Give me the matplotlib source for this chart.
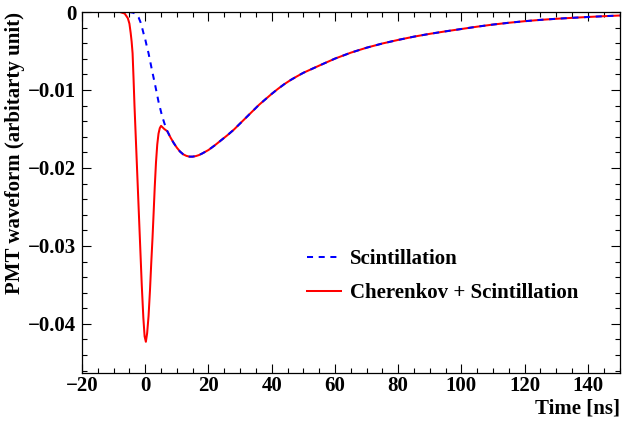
import matplotlib
matplotlib.use("Agg")
import matplotlib.pyplot as plt
from matplotlib.ticker import MultipleLocator

plt.rcParams["font.family"] = ["Liberation Serif", "DejaVu Serif"]
plt.rcParams["font.weight"] = "bold"

# Scintillation pulse, time in ns
scint_t = [-20, -5, -3.7, -2.9, -2.1, -1.5, -1.0, -0.5, 0, 0.5, 1.05, 2.1, 3.2,
           4.2, 5.3, 6.0, 6.5, 7.0, 7.5, 8, 9, 10, 11, 12, 13, 14, 15, 16, 17,
           18, 20, 22, 24, 26, 28, 30, 32, 34, 36, 38, 40, 42, 44, 46, 48, 50,
           55, 60, 65, 70, 75, 80, 85, 90, 95, 100, 105, 110, 115, 120, 125,
           130, 135, 140, 145, 150]
scint_v = [0, 0, -0.0001, -0.0003, -0.0007, -0.0013, -0.0020, -0.0028, -0.0035,
           -0.0044, -0.0053, -0.0074, -0.0095, -0.0115, -0.0133, -0.0142,
           -0.0148, -0.0153, -0.0157, -0.0161, -0.0168, -0.0174, -0.0179,
           -0.01825, -0.01845, -0.01855, -0.01855, -0.01848, -0.01835,
           -0.01815, -0.0177, -0.0171, -0.01645, -0.0158, -0.0151, -0.0143,
           -0.0135, -0.0127, -0.0119, -0.0112, -0.0105, -0.00985, -0.00925,
           -0.00872, -0.00825, -0.0078, -0.00688, -0.00598, -0.00522,
           -0.00458, -0.00404, -0.00358, -0.00316, -0.0028, -0.00248,
           -0.00218, -0.00188, -0.00161, -0.00138, -0.00118, -0.00101,
           -0.00087, -0.00075, -0.00064, -0.00054, -0.00045]

# Cherenkov spike on top of scintillation, up to where both curves merge
cher_t = [-20, -8, -6.5, -5.5, -5.0, -4.6, -4.3, -4.0, -3.7, -3.4, -3.0, -2.6,
          -2.1, -1.6, -1.1, -0.6, -0.2, 0.2, 0.6, 1.05, 1.5, 1.9, 2.3, 2.65,
          3.0, 3.4, 3.8, 4.2, 4.6, 5.0, 5.5, 6.0, 6.5]
cher_v = [0, 0, -0.0002, -0.0008, -0.0015, -0.0027, -0.0038, -0.0053, -0.0085,
          -0.0120, -0.0160, -0.0200, -0.0250, -0.0300, -0.0350, -0.0392,
          -0.0416, -0.0423, -0.0412, -0.0390, -0.0357, -0.0322, -0.0290,
          -0.0258, -0.0225, -0.0193, -0.0170, -0.0156, -0.0149, -0.0146,
          -0.0148, -0.0150, -0.01515]

x_ticks = [-20, 0, 20, 40, 60, 80, 100, 120, 140]
y_ticks = [0, -0.01, -0.02, -0.03, -0.04]
y_labels = ["0", "\u22120.01", "\u22120.02", "\u22120.03", "\u22120.04"]

# combined curve = spike part + scintillation tail after the merge point
tail = [i for i, t in enumerate(scint_t) if t > cher_t[-1]]
comb_t = cher_t + [scint_t[i] for i in tail]
comb_v = cher_v + [scint_v[i] for i in tail]

fig = plt.figure(figsize=(6.22, 4.21), dpi=100)
ax = fig.add_axes([82 / 622, 1 - 373 / 421, 537.5 / 622, 361 / 421])

ax.plot(comb_t, comb_v, color="#ff0000", lw=1.45, label="Cherenkov + Scintillation")
ax.plot(scint_t, scint_v, color="#0000ff", lw=1.45, dashes=(3, 2.8),
        label="Scintillation")

ax.set_xlim(-20, 150)
ax.set_ylim(-0.0463, 0)
ax.set_xticks(x_ticks)
ax.set_xticklabels(["\u221220"] + [str(t) for t in x_ticks[1:]])
ax.set_yticks(y_ticks)
ax.set_yticklabels(y_labels)
ax.xaxis.set_minor_locator(MultipleLocator(5))
ax.yaxis.set_minor_locator(MultipleLocator(0.002))
ax.tick_params(which="both", direction="in", top=True, right=True,
               labelsize=15, width=0.8)
ax.tick_params(which="major", length=6.5)
ax.tick_params(which="minor", length=3.3)
ax.tick_params(axis="x", pad=2)
ax.tick_params(axis="y", pad=4)
for s in ax.spines.values():
    s.set_linewidth(0.9)

fig.text(620 / 622, 1 - 408 / 421, "Time [ns]", ha="right", va="center",
         fontsize=15, fontweight="bold")
fig.text(15 / 622, 1 - 12 / 421, "PMT waveform (arbitarty unit)", rotation=90,
         ha="center", va="top", fontsize=15, fontweight="bold")

h, l = ax.get_legend_handles_labels()
ax.legend(h[::-1], l[::-1], loc="upper left", bbox_to_anchor=(0.419, 0.344),
          frameon=False, fontsize=15, handlelength=1.6, handletextpad=0.45,
          labelspacing=0.7, borderaxespad=0, borderpad=0)

fig.savefig("out.png", dpi=100)
